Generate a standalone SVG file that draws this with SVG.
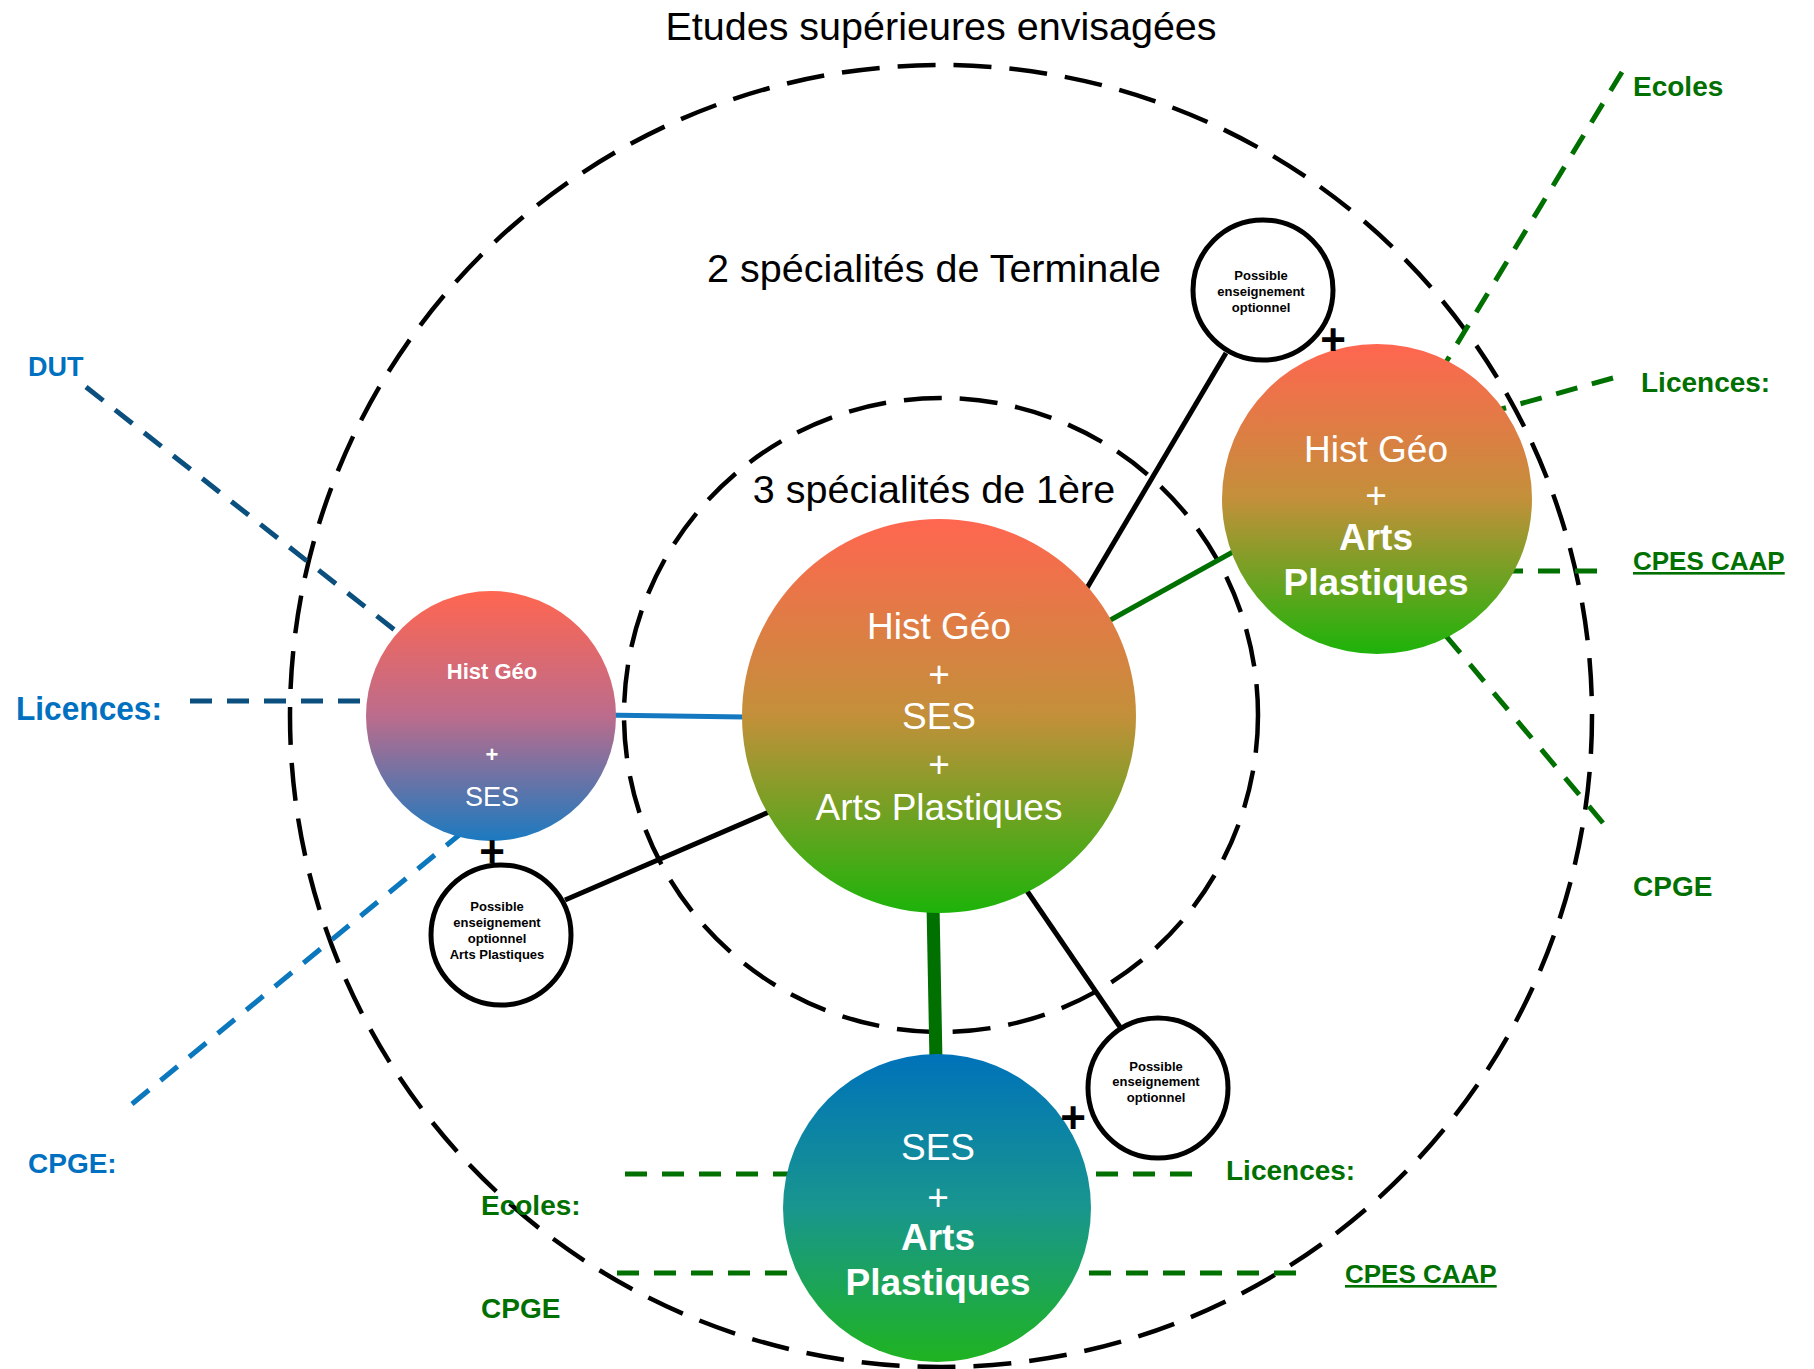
<svg xmlns="http://www.w3.org/2000/svg" width="1814" height="1369" viewBox="0 0 1814 1369">
<defs>
<linearGradient id="gRG" x1="0" y1="0" x2="0" y2="1">
<stop offset="0" stop-color="#FF6650"/>
<stop offset="0.5" stop-color="#C3903A"/>
<stop offset="1" stop-color="#1DB30A"/>
</linearGradient>
<linearGradient id="gRB" x1="0" y1="0" x2="0" y2="1">
<stop offset="0" stop-color="#FF6650"/>
<stop offset="0.5" stop-color="#BC6C8C"/>
<stop offset="1" stop-color="#1B7AC0"/>
</linearGradient>
<linearGradient id="gBG" x1="0" y1="0" x2="0" y2="1">
<stop offset="0" stop-color="#0072BA"/>
<stop offset="0.5" stop-color="#18968E"/>
<stop offset="1" stop-color="#1FB320"/>
</linearGradient>
</defs>
<style>
.ring{fill:none;stroke:#000;stroke-width:4.5;stroke-dasharray:38 18}
.solid{stroke:#000;stroke-width:5;fill:none}
.dash{fill:none;stroke-width:5;stroke-dasharray:22 15}
.dg{stroke:#007000}
.db{stroke:#0B4F7E}
.lb{stroke:#0B77BD}
.t{font-family:"Liberation Sans",Arial,sans-serif}
.w{fill:#fff;text-anchor:middle}
.b{font-weight:bold}
.small{font-family:"Liberation Sans",Arial,sans-serif;font-weight:bold;font-size:13px;fill:#000;text-anchor:middle}
.opt{fill:#fff;stroke:#000;stroke-width:5}
.lg{font-family:"Liberation Sans",Arial,sans-serif;font-weight:bold;fill:#007000}
.lbl{font-family:"Liberation Sans",Arial,sans-serif;font-weight:bold;fill:#0070C0}
.plus{font-family:"Liberation Sans",Arial,sans-serif;font-weight:bold;font-size:44px;fill:#000;text-anchor:middle}
.hdr{font-family:"Liberation Sans",Arial,sans-serif;font-size:39.5px;fill:#000;text-anchor:middle}
</style>
<rect width="1814" height="1369" fill="#fff"/>

<g id="rings">
<circle class="ring" cx="941" cy="716" r="651"/>
<circle class="ring" cx="941" cy="715" r="317"/>
</g>

<g id="headings">
<text class="hdr" x="941" y="40">Etudes supérieures envisagées</text>
<text class="hdr" x="934" y="282">2 spécialités de Terminale</text>
<text class="hdr" x="934" y="503">3 spécialités de 1ère</text>
</g>

<g id="connectors">
<line class="solid" x1="1226" y1="353" x2="1087" y2="588"/>
<line class="solid" x1="565" y1="900" x2="769" y2="812"/>
<line class="solid" x1="1025" y1="888" x2="1120" y2="1027"/>
<line x1="600" y1="715" x2="745" y2="717" stroke="#1479C0" stroke-width="5"/>
<line x1="1105" y1="623" x2="1240" y2="548" stroke="#007000" stroke-width="5"/>
<line x1="933" y1="905" x2="936" y2="1062" stroke="#007000" stroke-width="13"/>

<line class="dash db" x1="86" y1="387" x2="420" y2="650"/>
<line class="dash db" x1="190" y1="701" x2="380" y2="701"/>
<line class="dash lb" x1="132" y1="1104" x2="470" y2="826"/>

<line class="dash dg" x1="1622" y1="72" x2="1440" y2="372"/>
<line class="dash dg" x1="1613" y1="378" x2="1480" y2="415"/>
<line class="dash dg" x1="1597" y1="571" x2="1480" y2="571"/>
<line class="dash dg" x1="1603" y1="823" x2="1420" y2="605"/>

<line class="dash dg" x1="625" y1="1174" x2="800" y2="1174"/>
<line class="dash dg" x1="1192" y1="1174" x2="1075" y2="1174"/>
<line class="dash dg" x1="617" y1="1273" x2="800" y2="1273"/>
<line class="dash dg" x1="1296" y1="1273" x2="1075" y2="1273"/>
</g>

<g id="node-center">
<circle cx="939" cy="716" r="197" fill="url(#gRG)"/>
<text class="t w" font-size="37" x="939" y="639">Hist Géo</text>
<text class="t w" font-size="37" x="939" y="687">+</text>
<text class="t w" font-size="37" x="939" y="729">SES</text>
<text class="t w" font-size="37" x="939" y="777">+</text>
<text class="t w" font-size="37" x="939" y="820">Arts Plastiques</text>
</g>

<g id="node-left">
<circle cx="491" cy="716" r="125" fill="url(#gRB)"/>
<text class="t w b" font-size="22" x="492" y="679">Hist Géo</text>
<text class="t w b" font-size="22" x="492" y="762">+</text>
<text class="t w" font-size="27" x="492" y="806">SES</text>
</g>

<g id="node-topright">
<circle cx="1377" cy="499" r="155" fill="url(#gRG)"/>
<text class="t w" font-size="37" x="1376" y="462">Hist Géo</text>
<text class="t w" font-size="37" x="1376" y="508">+</text>
<text class="t w b" font-size="37" x="1376" y="550">Arts</text>
<text class="t w b" font-size="37" x="1376" y="595">Plastiques</text>
</g>

<g id="node-bottom">
<circle cx="937" cy="1208" r="154" fill="url(#gBG)"/>
<text class="t w" font-size="37" x="938" y="1160">SES</text>
<text class="t w" font-size="37" x="938" y="1210">+</text>
<text class="t w b" font-size="37" x="938" y="1250">Arts</text>
<text class="t w b" font-size="37" x="938" y="1295">Plastiques</text>
</g>

<g id="opt-top">
<circle class="opt" cx="1263" cy="290" r="70"/>
<text class="small" x="1261" y="280">Possible</text>
<text class="small" x="1261" y="296">enseignement</text>
<text class="small" x="1261" y="312">optionnel</text>
</g>

<g id="opt-left">
<circle class="opt" cx="501" cy="935" r="70"/>
<text class="small" x="497" y="911">Possible</text>
<text class="small" x="497" y="927">enseignement</text>
<text class="small" x="497" y="943">optionnel</text>
<text class="small" x="497" y="959">Arts Plastiques</text>
</g>

<g id="opt-bottom">
<circle class="opt" cx="1158" cy="1088" r="70"/>
<text class="small" x="1156" y="1071">Possible</text>
<text class="small" x="1156" y="1086">enseignement</text>
<text class="small" x="1156" y="1102">optionnel</text>
</g>

<g id="plus-signs">
<text class="plus" x="492" y="867">+</text>
<text class="plus" x="1333" y="355">+</text>
<text class="plus" x="1073" y="1133">+</text>
</g>

<g id="labels-left">
<text class="lbl" x="28" y="376" font-size="27">DUT</text>
<text class="lbl" x="16" y="720" font-size="33" textLength="146" lengthAdjust="spacingAndGlyphs">Licences:</text>
<text class="lbl" x="28" y="1173" font-size="28">CPGE:</text>
</g>

<g id="labels-right">
<text class="lg" x="1633" y="96" font-size="28">Ecoles</text>
<text class="lg" x="1641" y="392" font-size="28">Licences:</text>
<text class="lg" x="1633" y="570" font-size="26" text-decoration="underline">CPES CAAP</text>
<text class="lg" x="1633" y="896" font-size="28">CPGE</text>
</g>

<g id="labels-bottom">
<text class="lg" x="481" y="1215" font-size="28">Ecoles:</text>
<text class="lg" x="1226" y="1180" font-size="28">Licences:</text>
<text class="lg" x="481" y="1318" font-size="28">CPGE</text>
<text class="lg" x="1345" y="1283" font-size="26" text-decoration="underline">CPES CAAP</text>
</g>
</svg>
